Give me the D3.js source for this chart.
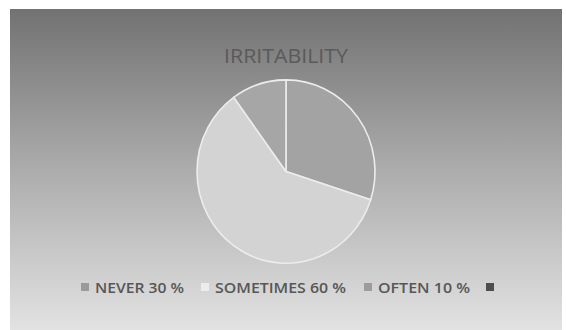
<!DOCTYPE html>
<html>
<head>
<meta charset="utf-8">
<script src="https://cdn.jsdelivr.net/npm/d3@7"></script>
<style>
  html, body { margin: 0; padding: 0; background: #ffffff; }
  svg { display: block; }
</style>
</head>
<body>
<svg id="chart" width="566" height="330"></svg>
<script>
// Irritability survey answers (percent of respondents)
const categories = ["NEVER", "SOMETIMES", "OFTEN"];
const values = [30, 60, 10];
const legendLabels = ["NEVER 30 %", "SOMETIMES 60 %", "OFTEN 10 %", ""];
const sliceColors = ["#a3a3a3", "#d3d3d3", "#a6a6a6"];
const legendColors = ["#9a9a9a", "#ececec", "#9c9c9c", "#4e4e4e"];
const title = "IRRITABILITY";

const svg = d3.select("#chart");
const W = 566, H = 330;

// background panel with vertical grey gradient
const defs = svg.append("defs");
const grad = defs.append("linearGradient")
  .attr("id", "bg").attr("x1", 0).attr("y1", 0).attr("x2", 0).attr("y2", 1);
grad.append("stop").attr("offset", "0%").attr("stop-color", "#727272");
grad.append("stop").attr("offset", "50%").attr("stop-color", "#acacac");
grad.append("stop").attr("offset", "100%").attr("stop-color", "#e2e2e2");

svg.append("rect")
  .attr("x", 10).attr("y", 9).attr("width", 552).attr("height", H - 9)
  .attr("fill", "url(#bg)");

// title
svg.append("text")
  .attr("x", 286).attr("y", 63)
  .attr("text-anchor", "middle")
  .attr("font-family", "'Open Sans', sans-serif")
  .attr("font-size", 20)
  .attr("fill", "#5a5a5a")
  .attr("textLength", 124)
  .attr("lengthAdjust", "spacingAndGlyphs")
  .text(title);

// pie
const cx = 286, cy = 171.5, r = 89;
const pie = d3.pie().sort(null).value(d => d)(values);
const arc = d3.arc().innerRadius(0).outerRadius(r);

const g = svg.append("g")
  .attr("transform", `translate(${cx},${cy}) scale(1,1.03)`);

g.selectAll("path.slice")
  .data(pie)
  .join("path")
  .attr("class", "slice")
  .attr("d", arc)
  .attr("fill", (d, i) => sliceColors[i])
  .attr("stroke", "#ececec")
  .attr("stroke-width", 1.6)
  .attr("stroke-linejoin", "round");

// legend
const legendY = 287;
const legendX = [81, 201, 364, 486];
const legendW = [89, 131, 92, 0];
const lg = svg.append("g");
legendLabels.forEach((lab, i) => {
  lg.append("rect")
    .attr("x", legendX[i]).attr("y", legendY - 4)
    .attr("width", 8).attr("height", 8)
    .attr("fill", legendColors[i]);
  if (lab) {
    lg.append("text")
      .attr("x", legendX[i] + 14).attr("y", legendY + 5.5)
      .attr("font-family", "'Open Sans', sans-serif")
      .attr("font-size", 15)
      .attr("font-weight", 600)
      .attr("fill", "#575757")
      .attr("textLength", legendW[i])
      .attr("lengthAdjust", "spacingAndGlyphs")
      .text(lab);
  }
});
</script>
</body>
</html>
